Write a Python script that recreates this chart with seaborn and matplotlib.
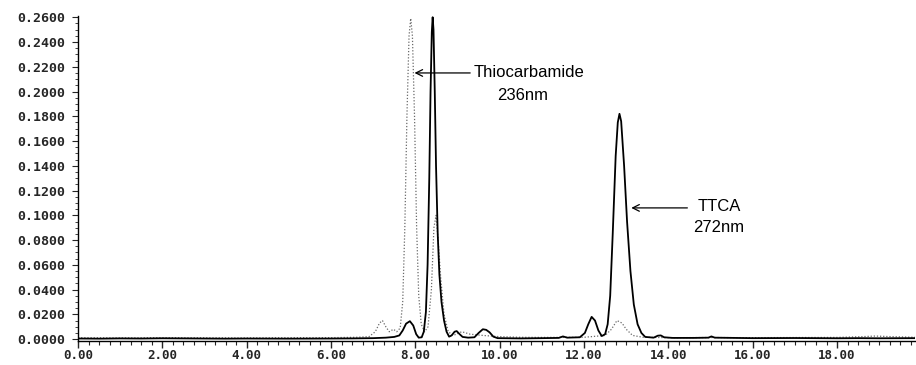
import numpy as np
import pandas as pd
import matplotlib
matplotlib.use("Agg")
import matplotlib.pyplot as plt
import seaborn as sns
from matplotlib.ticker import MultipleLocator, FormatStrFormatter

# --- data (retention time in min, absorbance AU) ---
solid_t = [0.0, 0.5, 1.0, 1.5, 2.0, 2.5, 3.0, 3.5, 4.0, 5.0, 6.0, 6.5, 7.0, 7.3, 7.5,
           7.62, 7.7, 7.78, 7.87, 7.95, 8.02, 8.08, 8.15, 8.2, 8.25, 8.29, 8.33, 8.36,
           8.39, 8.41, 8.43, 8.46, 8.49, 8.53, 8.57, 8.62, 8.68, 8.74, 8.8, 8.86, 8.93,
           8.98, 9.05, 9.12, 9.25, 9.4, 9.5, 9.6, 9.68, 9.76, 9.85, 9.95, 10.5, 11.0,
           11.4, 11.5, 11.6, 11.9, 12.02, 12.1, 12.18, 12.26, 12.34, 12.42, 12.5, 12.56,
           12.62, 12.68, 12.75, 12.8, 12.84, 12.88, 12.95, 13.02, 13.1, 13.18, 13.27,
           13.36, 13.45, 13.65, 13.75, 13.82, 13.9, 14.1, 14.6, 14.95, 15.02, 15.1, 16.0,
           17.0, 18.0, 18.5, 19.0, 19.85]
solid_y = [0.0005, 0.0004, 0.0006, 0.0005, 0.0007, 0.0006, 0.0005, 0.0004, 0.0005,
           0.0004, 0.0005, 0.0006, 0.0008, 0.0012, 0.0018, 0.003, 0.007, 0.0125, 0.0145,
           0.011, 0.004, 0.0012, 0.0015, 0.006, 0.022, 0.06, 0.13, 0.2, 0.248, 0.26,
           0.25, 0.2, 0.14, 0.085, 0.052, 0.03, 0.015, 0.006, 0.002, 0.003, 0.006,
           0.0065, 0.004, 0.0018, 0.0012, 0.0015, 0.005, 0.008, 0.0075, 0.0055, 0.002,
           0.0008, 0.0006, 0.0008, 0.001, 0.0022, 0.0012, 0.0015, 0.005, 0.012, 0.018,
           0.015, 0.007, 0.0025, 0.004, 0.012, 0.035, 0.085, 0.148, 0.175, 0.182, 0.176,
           0.14, 0.095, 0.055, 0.028, 0.012, 0.005, 0.0018, 0.0012, 0.0028, 0.003,
           0.0015, 0.001, 0.001, 0.0012, 0.0022, 0.0012, 0.0008, 0.0009, 0.0007, 0.0008,
           0.0007, 0.0008]

dotted_t = [0.0, 1.0, 2.0, 3.0, 4.0, 5.0, 6.0, 6.6, 6.9, 7.05, 7.15, 7.22, 7.3, 7.38,
            7.48, 7.56, 7.64, 7.7, 7.75, 7.8, 7.85, 7.89, 7.93, 7.98, 8.03, 8.08, 8.14,
            8.22, 8.3, 8.38, 8.44, 8.49, 8.54, 8.6, 8.68, 8.78, 8.9, 9.1, 9.3, 9.6, 10.0,
            10.5, 11.0, 12.0, 12.5, 12.65, 12.78, 12.9, 13.0, 13.15, 13.4, 14.0, 15.0,
            16.0, 17.0, 18.0, 18.6, 18.9, 19.3, 19.85]
dotted_y = [0.0012, 0.001, 0.0012, 0.0011, 0.001, 0.0012, 0.0012, 0.0015, 0.002, 0.006,
            0.013, 0.015, 0.01, 0.006, 0.008, 0.006, 0.009, 0.03, 0.09, 0.18, 0.245,
            0.259, 0.245, 0.18, 0.09, 0.035, 0.012, 0.006, 0.01, 0.04, 0.09, 0.1, 0.08,
            0.05, 0.02, 0.006, 0.003, 0.006, 0.004, 0.003, 0.002, 0.0015, 0.0014, 0.0015,
            0.003, 0.008, 0.015, 0.013, 0.008, 0.003, 0.0015, 0.0012, 0.0013, 0.0012,
            0.0013, 0.0014, 0.002, 0.0025, 0.002, 0.0015]

x_ticks = [0, 2, 4, 6, 8, 10, 12, 14, 16, 18]
y_ticks = [0.00, 0.02, 0.04, 0.06, 0.08, 0.10, 0.12, 0.14, 0.16, 0.18, 0.20, 0.22, 0.24, 0.26]

solid_df = pd.DataFrame({"t": solid_t, "y": solid_y})
dotted_df = pd.DataFrame({"t": dotted_t, "y": dotted_y})

sns.set_style("ticks")
plt.rcParams['font.family'] = ['DejaVu Sans']

fig = plt.figure(figsize=(9.16, 3.65), dpi=100)
ax = fig.add_axes([78 / 916, 24 / 365, 1 - 78 / 916 - 0.001, (341 - 16) / 365])

sns.lineplot(data=dotted_df, x="t", y="y", ax=ax, color="#6a6a6a", lw=0.9,
             linestyle=(0, (1, 1.5)), estimator=None, sort=False)
sns.lineplot(data=solid_df, x="t", y="y", ax=ax, color="black", lw=1.3,
             estimator=None, sort=False)

ax.set_xlim(0, 19.85)
ax.set_ylim(-0.0015, 0.261)
ax.set_xticks(x_ticks)
ax.set_yticks(y_ticks)
ax.xaxis.set_major_formatter(FormatStrFormatter("%.2f"))
ax.yaxis.set_major_formatter(FormatStrFormatter("%.4f"))
ax.xaxis.set_minor_locator(MultipleLocator(0.25))
ax.yaxis.set_minor_locator(MultipleLocator(0.005))
ax.set_xlabel("")
ax.set_ylabel("")

for spine in ["top", "right"]:
    ax.spines[spine].set_visible(False)
for spine in ["left", "bottom"]:
    ax.spines[spine].set_linewidth(1.0)
    ax.spines[spine].set_color("black")

ax.tick_params(axis="x", which="major", length=5, width=1, pad=1, direction="out")
ax.tick_params(axis="x", which="minor", length=3, width=0.8, direction="out")
ax.tick_params(axis="y", which="major", length=4, width=0.8, pad=5, direction="out")
ax.tick_params(axis="y", which="minor", length=2, width=0.6, direction="out")
for lab in ax.get_xticklabels():
    lab.set_fontfamily("DejaVu Sans Mono")
    lab.set_fontweight("bold")
    lab.set_fontsize(9)
for lab in ax.get_yticklabels():
    lab.set_fontfamily("DejaVu Sans Mono")
    lab.set_fontweight("bold")
    lab.set_fontsize(9.5)

# annotations
ann_font = dict(family="Liberation Sans", fontsize=12, color="black")
ax.annotate("", xy=(7.98, 0.215), xytext=(9.3, 0.215),
            arrowprops=dict(arrowstyle="->", lw=0.9, color="black",
                            shrinkA=0, shrinkB=0, mutation_scale=12))
ax.text(9.38, 0.215, "Thiocarbamide", ha="left", va="center", **ann_font)
ax.text(10.55, 0.197, "236nm", ha="center", va="center", **ann_font)

ax.annotate("", xy=(13.12, 0.106), xytext=(14.45, 0.106),
            arrowprops=dict(arrowstyle="->", lw=0.9, color="black",
                            shrinkA=0, shrinkB=0, mutation_scale=12))
ax.text(15.2, 0.107, "TTCA", ha="center", va="center", **ann_font)
ax.text(15.2, 0.09, "272nm", ha="center", va="center", **ann_font)

fig.savefig("out.png", dpi=100, facecolor="white")
